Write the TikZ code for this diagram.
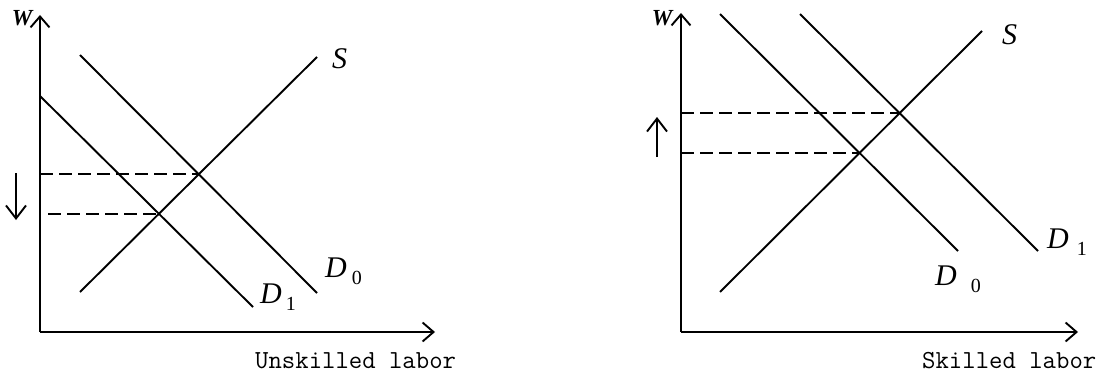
\documentclass[tikz,border=0pt]{standalone}
\usepackage{fontspec}
\usepackage{tikz}
\usetikzlibrary{arrows.meta, intersections}
\newfontfamily\lblfont{Liberation Serif}
\newcommand{\curvelbl}[3]{\textit{#1}\hspace{#3}\raisebox{-7pt}{\fontsize{20}{20}\selectfont #2}}
\tikzset{
  axarr/.style={-{Straight Barb[length=11pt,width=19pt]}, line width=1.9pt},
  crv/.style={line width=1.9pt},
  dline/.style={line width=1.7pt, dash pattern=on 13pt off 6pt},
  sarr/.style={-{Straight Barb[length=13pt,width=20pt]}, line width=1.9pt},
  lbl/.style={anchor=base west, inner sep=0pt, font=\fontsize{30}{30}\selectfont\lblfont},
  axlbl/.style={anchor=base west, inner sep=0pt, font=\fontsize{26}{26}\selectfont\ttfamily},
  wlbl/.style={inner sep=0pt, font=\fontsize{23}{23}\selectfont\lblfont\bfseries\itshape},
}

\begin{document}
\begin{tikzpicture}[x=1pt, y=1pt, line cap=butt]
  \useasboundingbox (0,0) rectangle (1105,373);

  %% ── Unskilled labor (left) ──
  \begin{scope}[shift={(40,41)}]
    \coordinate (oL) at (0,0);
    \coordinate (ytopL) at (0,317);
    \coordinate (xtipL) at (395,0);
    \draw[axarr] (oL) -- (ytopL);
    \draw[axarr] (oL) -- (xtipL);
    \node[wlbl] (wL) at (-18,314) {W};
    \node[axlbl] (xlblL) at (215,-36) {Unskilled labor};

    % Curves
    \coordinate (sL0) at (40,40);   \coordinate (sL1) at (277,275);
    \coordinate (dzL0) at (40,277); \coordinate (dzL1) at (277,39);
    \coordinate (doL0) at (0,236);  \coordinate (doL1) at (213,25);
    \draw[crv, name path=sL] (sL0) -- (sL1);
    \draw[crv, name path=dzL] (dzL0) -- (dzL1);
    \draw[crv, name path=doL] (doL0) -- (doL1);
    \node[lbl] (sLlbl) at (292,264) {\textit{S}};
    \node[lbl] (dzLlbl) at (285,55) {\curvelbl{D}{0}{5pt}};
    \node[lbl] (doLlbl) at (220,29) {\curvelbl{D}{1}{4pt}};

    % Equilibria
    \path[name intersections={of=sL and dzL, by=eL0}];
    \path[name intersections={of=sL and doL, by=eL1}];
    \coordinate (dsL) at (8,0);
    \draw[dline] (eL0 -| oL) -- (eL0);
    \draw[dline] (eL1 -| dsL) -- (eL1);

    % Wage falls
    \coordinate (waL0) at (-24,159);
    \coordinate (waL1) at (-24,112);
    \draw[sarr] (waL0) -- (waL1);
  \end{scope}

  %% ── Skilled labor (right) ──
  \begin{scope}[shift={(681,41)}]
    \coordinate (oR) at (0,0);
    \coordinate (ytopR) at (0,319);
    \coordinate (xtipR) at (397,0);
    \draw[axarr] (oR) -- (ytopR);
    \draw[axarr] (oR) -- (xtipR);
    \node[wlbl] (wR) at (-19,314) {W};
    \node[axlbl] (xlblR) at (241,-36) {Skilled labor};

    % Curves
    \coordinate (sR0) at (39,40);    \coordinate (sR1) at (301,301);
    \coordinate (dzR0) at (39,318);  \coordinate (dzR1) at (277,81);
    \coordinate (doR0) at (119,318); \coordinate (doR1) at (357,81);
    \draw[crv, name path=sR] (sR0) -- (sR1);
    \draw[crv, name path=dzR] (dzR0) -- (dzR1);
    \draw[crv, name path=doR] (doR0) -- (doR1);
    \node[lbl] (sRlbl) at (321,287) {\textit{S}};
    \node[lbl] (dzRlbl) at (254,47) {\curvelbl{D}{0}{14pt}};
    \node[lbl] (doRlbl) at (366,84) {\curvelbl{D}{1}{8pt}};

    % Equilibria
    \path[name intersections={of=sR and dzR, by=eR0}];
    \path[name intersections={of=sR and doR, by=eR1}];
    \draw[dline] (eR1 -| oR) -- (eR1);
    \draw[dline] (eR0 -| oR) -- (eR0);

    % Wage rises
    \coordinate (waR0) at (-24,175);
    \coordinate (waR1) at (-24,215);
    \draw[sarr] (waR0) -- (waR1);
  \end{scope}
\end{tikzpicture}
\end{document}
